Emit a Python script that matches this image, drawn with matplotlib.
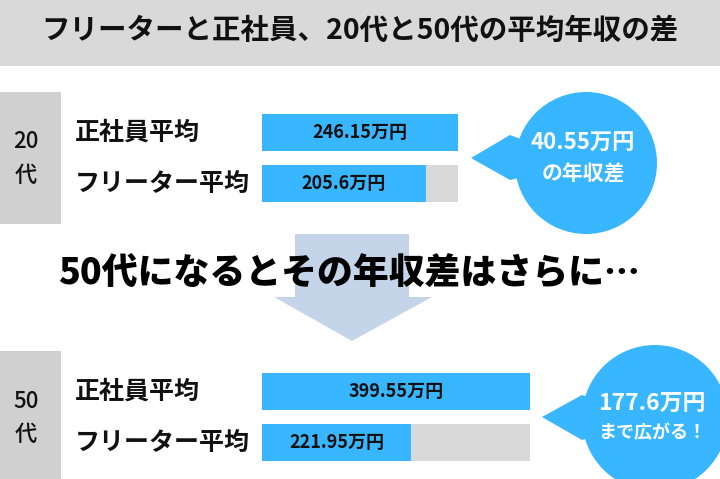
import matplotlib
matplotlib.use("Agg")
import matplotlib.pyplot as plt
from matplotlib.patches import Rectangle, Circle, Polygon

plt.rcParams['font.family'] = ['Noto Sans CJK JP', 'DejaVu Sans']

# ---- data ----
title = 'フリーターと正社員、20代と50代の平均年収の差'
age_groups = ['20', '50']
row_labels = ['正社員平均', 'フリーター平均']
regular_avg = [246.15, 399.55]     # 万円
freeter_avg = [205.6, 221.95]      # 万円
bubble_captions = ['の年収差', 'まで広がる！']
bridge_text = '50代になるとその年収差はさらに…'

# ---- colours ----
BLUE = '#38b6ff'
TRACK = '#d9d9d9'
BAND = '#d9d9d9'
SIDE = '#d0d0d0'
ARROW = '#c4d5ea'

W, H = 720, 479
fig = plt.figure(figsize=(W / 100, H / 100), dpi=100)

# background canvas in pixel units (y grows downward)
bg = fig.add_axes([0, 0, 1, 1])
bg.set_xlim(0, W)
bg.set_ylim(H, 0)
bg.axis('off')

# title band
bg.add_patch(Rectangle((0, 0), W, 66, color=BAND, lw=0))
bg.text(360, 31, title, ha='center', va='center', fontsize=20.5,
        fontweight='bold', color='#111111')

# down arrow between the two sections
bg.add_patch(Polygon([(295, 234), (409, 234), (409, 297), (432, 297),
                      (352, 341), (274, 297), (295, 297)],
                     closed=True, color=ARROW, lw=0, zorder=1))
bg.text(349, 272, bridge_text, ha='center', va='center', fontsize=25.8,
        fontweight='heavy', color='#000000', zorder=3)

# per-section layout (pixels)
side_boxes = [(92, 224), (351, 485)]
age_text_y = [(142, 175), (402, 434)]
bar_tops = [114, 373]
bar_widths = [196, 268]
bubble_centers = [(586, 163), (655, 418)]
bubble_radius = [71, 73]
bubble_tails = [[(471, 158), (510, 135), (586, 163), (510, 180)],
                [(542, 417), (582, 395), (655, 418), (582, 440)]]
bubble_text_y = [(143, 174), (403, 433)]
bubble_sizes = [(16, 15), (16.5, 13)]

BAR_AREA_H = 88
PITCH = 51          # px between the two bar centres
BAR_H_PX = 37

for i, age in enumerate(age_groups):
    top, bottom = side_boxes[i]
    bg.add_patch(Rectangle((0, top), 61, bottom - top, color=SIDE, lw=0))
    bg.text(26, age_text_y[i][0], age, ha='center', va='center',
            fontsize=16, fontweight='medium', color='#111111')
    bg.text(26, age_text_y[i][1], '代', ha='center', va='center',
            fontsize=16, fontweight='medium', color='#111111')

    # row labels
    for j, lab in enumerate(row_labels):
        yc = bar_tops[i] + BAR_H_PX / 2 + j * PITCH
        bg.text(75, yc, lab, ha='left', va='center', fontsize=18,
                fontweight='bold', color='#111111')

    # bars, scaled so the full track equals the regular-employee average
    left = 262
    ax = fig.add_axes([left / W, (H - bar_tops[i] - BAR_AREA_H) / H,
                       bar_widths[i] / W, BAR_AREA_H / H])
    ax.set_xlim(0, regular_avg[i])
    off = (BAR_H_PX / 2) / PITCH
    ax.set_ylim(1 + off, -off)
    h = BAR_H_PX / PITCH
    ax.barh(0, regular_avg[i], height=h, color=BLUE, lw=0)
    ax.barh(1, regular_avg[i], height=h, color=TRACK, lw=0)
    ax.barh(1, freeter_avg[i], height=h, color=BLUE, lw=0)
    ax.text(regular_avg[i] / 2, 0, f'{regular_avg[i]:g}万円', ha='center',
            va='center', fontsize=13, fontweight='bold', color='#111111')
    ax.text(freeter_avg[i] / 2, 1, f'{freeter_avg[i]:g}万円', ha='center',
            va='center', fontsize=13, fontweight='bold', color='#111111')
    ax.axis('off')

    # speech bubble with the gap
    cx, cy = bubble_centers[i]
    bg.add_patch(Circle((cx, cy), bubble_radius[i], color=BLUE, lw=0, zorder=2))
    bg.add_patch(Polygon(bubble_tails[i], closed=True, color=BLUE, lw=0, zorder=2))
    gap = regular_avg[i] - freeter_avg[i]
    bg.text(cx - 3, bubble_text_y[i][0], f'{round(gap, 2):g}万円', ha='center',
            va='center', fontsize=bubble_sizes[i][0], fontweight='bold',
            color='white', zorder=3)
    bg.text(cx - 3, bubble_text_y[i][1], bubble_captions[i], ha='center',
            va='center', fontsize=bubble_sizes[i][1], fontweight='bold',
            color='white', zorder=3)

fig.savefig('out.png', dpi=100)
